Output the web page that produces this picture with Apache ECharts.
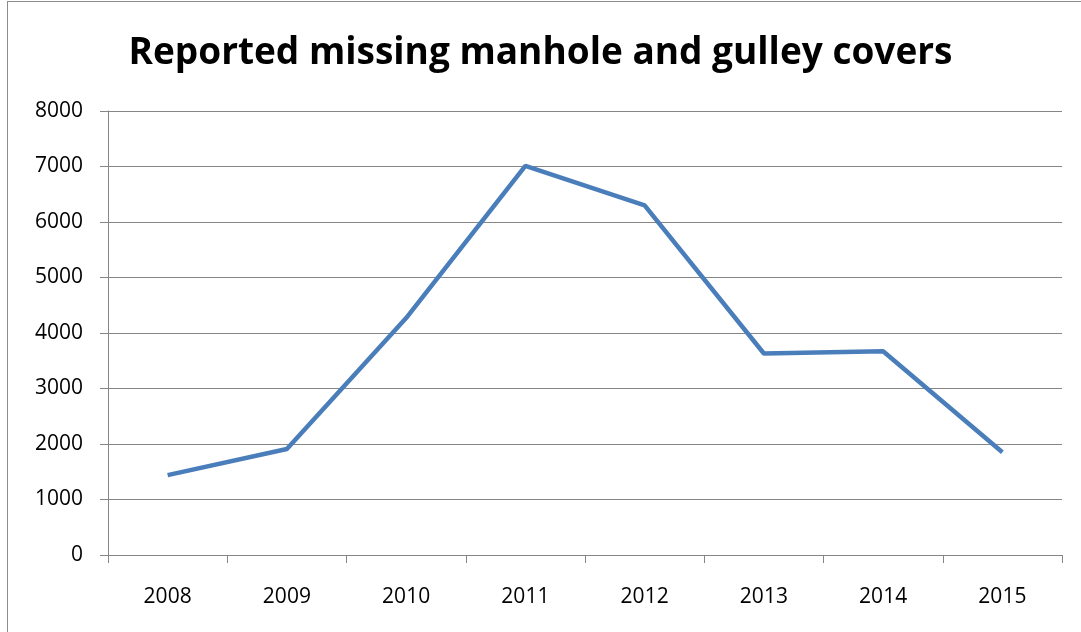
<!DOCTYPE html>
<html>
<head>
<meta charset="utf-8">
<script src="https://cdn.jsdelivr.net/npm/echarts@6/dist/echarts.min.js"></script>
<style>
  html, body { margin: 0; padding: 0; background: #fff; }
  #frame { position: absolute; left: 7px; top: 1px; width: 1090px; height: 650px; border: 1px solid #8c8c8c; box-sizing: border-box; }
  #chart { width: 1081px; height: 632px; position: absolute; left: 0; top: 0; }
</style>
</head>
<body>
<div id="frame"></div>
<div id="chart"></div>
<script>
// reported missing covers per year
var years = ['2008', '2009', '2010', '2011', '2012', '2013', '2014', '2015'];
var covers = [1440, 1910, 4270, 7010, 6300, 3630, 3670, 1850];

var chart = echarts.init(document.getElementById('chart'));
chart.setOption({
  animation: false,
  title: {
    text: 'Reported missing manhole and gulley covers',
    left: 'center',
    top: 30,
    textStyle: {
      fontFamily: 'Open Sans',
      fontWeight: 'bold',
      fontSize: 37,
      color: '#000'
    }
  },
  grid: { left: 108, right: 19, top: 111, bottom: 77 },
  xAxis: {
    type: 'category',
    data: years,
    axisLine: { lineStyle: { color: '#868686', width: 1 } },
    axisTick: { show: true, length: 8, lineStyle: { color: '#868686' } },
    axisLabel: { color: '#000', fontSize: 21, fontFamily: 'Open Sans', margin: 32 }
  },
  yAxis: {
    type: 'value',
    min: 0,
    max: 8000,
    interval: 1000,
    axisLine: { show: true, lineStyle: { color: '#868686', width: 1 } },
    axisTick: { show: true, length: 8, lineStyle: { color: '#868686' } },
    axisLabel: {
      color: '#000', fontSize: 21, fontFamily: 'Open Sans', margin: 25,
      formatter: function (v) { return String(v); }
    },
    splitLine: { lineStyle: { color: '#868686', width: 1 } }
  },
  series: [{
    type: 'line',
    data: covers,
    symbol: 'none',
    lineStyle: { color: '#4a7ebb', width: 4.5 }
  }]
});
</script>
</body>
</html>
